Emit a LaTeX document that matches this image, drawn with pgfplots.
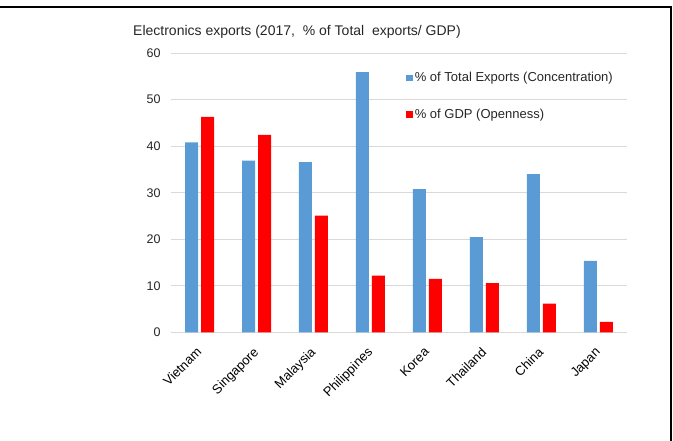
\documentclass[border=0pt]{standalone}
\usepackage{pgfplots}
\pgfplotsset{compat=1.18}
\usepackage{pgfplotstable}
\usepackage{fontspec}
\setmainfont{Liberation Sans}
\definecolor{barblue}{HTML}{5B9BD5}
\definecolor{barred}{HTML}{FF0000}
\definecolor{gridgray}{HTML}{D9D9D9}
\definecolor{txt}{HTML}{262626}
\pgfplotstableread{
x blue red
0 40.8 46.3
1 36.9 42.4
2 36.6 25.1
3 55.9 12.2
4 30.8 11.5
5 20.5 10.6
6 34.0 6.2
7 15.4 2.3
}\datatable
\begin{document}
\begin{tikzpicture}[x=1pt,y=1pt]
\path[use as bounding box] (0,0) rectangle (673,441);
\draw[line width=2pt] (0,433.5) -- (671,433.5) -- (671,0);
\node[anchor=west, font=\fontsize{14}{16}\selectfont, text=txt, inner sep=0] at (133,409.5) {Electronics exports (2017,\ \ \% of Total\ \ exports/ GDP)};
\begin{axis}[
  at={(171pt,108.5pt)}, anchor=south west,
  scale only axis, width=456pt, height=279.5pt,
  ymin=0, ymax=60, ytick={0,10,...,60},
  xmin=-0.5, xmax=7.5, xtick={0,...,7},
  xticklabels={Vietnam,Singapore,Malaysia,Philippines,Korea,Thailand,China,Japan},
  ybar=3pt, bar width=13pt,
  axis x line*=bottom, axis y line*=left,
  y axis line style={draw=none},
  x axis line style={gridgray, line width=1pt},
  major tick length=0pt,
  ymajorgrids, grid style={gridgray, line width=0.9pt},
  /pgf/number format/assume math mode=true,
  yticklabel style={font=\fontsize{12.5}{15}\selectfont, text=txt, xshift=-7pt},
  xticklabel style={font=\fontsize{13}{15}\selectfont, text=black, xshift=-4pt, yshift=-9pt, rotate=45, anchor=north east},
  legend style={at={(0.515,0.938)}, anchor=north west, draw=none, fill=none,
    font=\fontsize{13}{15}\selectfont, text=txt, row sep=21.5pt, inner sep=0pt,
    nodes={inner sep=2pt}},
  legend cell align=left,
]
\addplot[fill=barblue, draw=none, legend image code/.code={\fill[barblue] (0pt,-3.4pt) rectangle (6.8pt,3.4pt);}] table[x=x,y=blue] {\datatable};
\addlegendentry{\% of Total Exports (Concentration)}
\addplot[fill=barred, draw=none, legend image code/.code={\fill[barred] (0pt,-3.4pt) rectangle (6.8pt,3.4pt);}] table[x=x,y=red] {\datatable};
\addlegendentry{\% of GDP (Openness)}
\end{axis}
\end{tikzpicture}
\end{document}
